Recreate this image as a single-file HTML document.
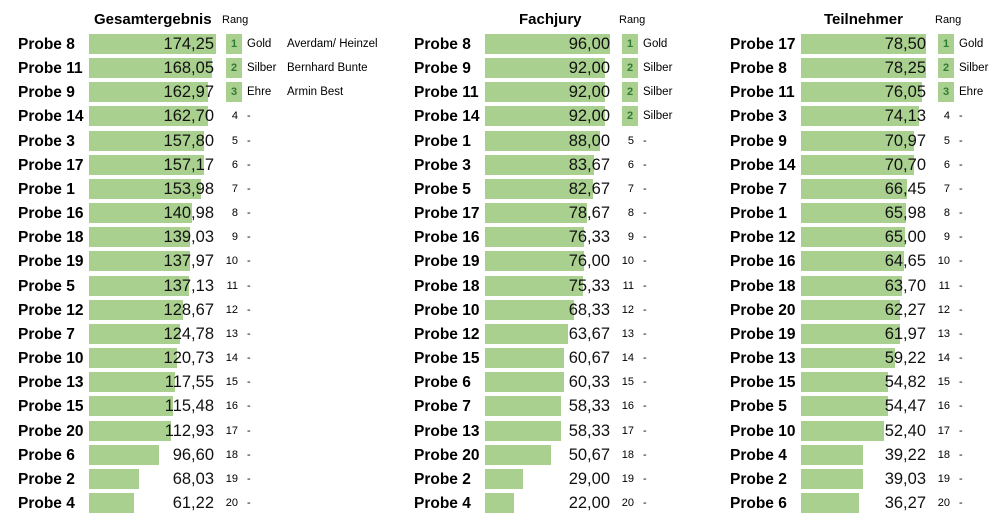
<!DOCTYPE html>
<html><head><meta charset="utf-8"><style>
body{margin:0;width:1000px;height:531px;background:#fff;position:relative;overflow:hidden;font-family:"Liberation Sans",Arial,sans-serif;color:#000}
.h{position:absolute;top:11px;font-weight:bold;font-size:15px}
.rg{position:absolute;top:14px;font-size:11px}
.p{position:absolute;left:0;top:0}
.r{position:absolute;height:24px;width:400px}
.l{position:absolute;left:18px;top:2px;font-weight:bold;font-size:15.5px}
.b{position:absolute;left:89px;top:0;height:20px;background:#a9d08e}
.v{position:absolute;left:60px;width:154px;text-align:right;top:1px;font-size:16.5px;color:#111}
.k{position:absolute;left:226px;top:0;width:16px;height:20px;background:#a9d08e;color:#2e7d32;font-weight:bold;font-size:11px;text-align:center;line-height:20px}
.n{position:absolute;left:216px;width:22px;text-align:right;top:4px;font-size:11px}
.n::after{content:"-";position:absolute;left:31px;top:0}
.m{position:absolute;left:247px;top:4px;font-size:11.5px}
.w{position:absolute;left:287px;top:4px;font-size:11.5px}
</style></head><body>
<div class="h" style="left:94px">Gesamtergebnis</div><div class="rg" style="left:222px">Rang</div>
<div class="h" style="left:519px">Fachjury</div><div class="rg" style="left:619px">Rang</div>
<div class="h" style="left:824px">Teilnehmer</div><div class="rg" style="left:935px">Rang</div>

<div class="p">
<div class="r" style="top:34px"><div class="l">Probe 8</div><div class="b" style="width:127px"></div><div class="v">174,25</div><div class="k">1</div><div class="m">Gold</div><div class="w">Averdam/ Heinzel</div></div>
<div class="r" style="top:58px"><div class="l">Probe 11</div><div class="b" style="width:122.5px"></div><div class="v">168,05</div><div class="k">2</div><div class="m">Silber</div><div class="w">Bernhard Bunte</div></div>
<div class="r" style="top:82px"><div class="l">Probe 9</div><div class="b" style="width:118.8px"></div><div class="v">162,97</div><div class="k">3</div><div class="m">Ehre</div><div class="w">Armin Best</div></div>
<div class="r" style="top:106px"><div class="l">Probe 14</div><div class="b" style="width:118.6px"></div><div class="v">162,70</div><div class="n">4</div></div>
<div class="r" style="top:131px"><div class="l">Probe 3</div><div class="b" style="width:115px"></div><div class="v">157,80</div><div class="n">5</div></div>
<div class="r" style="top:155px"><div class="l">Probe 17</div><div class="b" style="width:114.5px"></div><div class="v">157,17</div><div class="n">6</div></div>
<div class="r" style="top:179px"><div class="l">Probe 1</div><div class="b" style="width:112.2px"></div><div class="v">153,98</div><div class="n">7</div></div>
<div class="r" style="top:203px"><div class="l">Probe 16</div><div class="b" style="width:102.7px"></div><div class="v">140,98</div><div class="n">8</div></div>
<div class="r" style="top:227px"><div class="l">Probe 18</div><div class="b" style="width:101.3px"></div><div class="v">139,03</div><div class="n">9</div></div>
<div class="r" style="top:251px"><div class="l">Probe 19</div><div class="b" style="width:100.6px"></div><div class="v">137,97</div><div class="n">10</div></div>
<div class="r" style="top:276px"><div class="l">Probe 5</div><div class="b" style="width:99.9px"></div><div class="v">137,13</div><div class="n">11</div></div>
<div class="r" style="top:300px"><div class="l">Probe 12</div><div class="b" style="width:93.8px"></div><div class="v">128,67</div><div class="n">12</div></div>
<div class="r" style="top:324px"><div class="l">Probe 7</div><div class="b" style="width:90.9px"></div><div class="v">124,78</div><div class="n">13</div></div>
<div class="r" style="top:348px"><div class="l">Probe 10</div><div class="b" style="width:88px"></div><div class="v">120,73</div><div class="n">14</div></div>
<div class="r" style="top:372px"><div class="l">Probe 13</div><div class="b" style="width:85.7px"></div><div class="v">117,55</div><div class="n">15</div></div>
<div class="r" style="top:396px"><div class="l">Probe 15</div><div class="b" style="width:84.2px"></div><div class="v">115,48</div><div class="n">16</div></div>
<div class="r" style="top:421px"><div class="l">Probe 20</div><div class="b" style="width:82.3px"></div><div class="v">112,93</div><div class="n">17</div></div>
<div class="r" style="top:445px"><div class="l">Probe 6</div><div class="b" style="width:70.4px"></div><div class="v">96,60</div><div class="n">18</div></div>
<div class="r" style="top:469px"><div class="l">Probe 2</div><div class="b" style="width:49.6px"></div><div class="v">68,03</div><div class="n">19</div></div>
<div class="r" style="top:493px"><div class="l">Probe 4</div><div class="b" style="width:44.6px"></div><div class="v">61,22</div><div class="n">20</div></div>
</div>

<div class="p" style="left:396px">
<div class="r" style="top:34px"><div class="l">Probe 8</div><div class="b" style="width:125px"></div><div class="v">96,00</div><div class="k">1</div><div class="m">Gold</div></div>
<div class="r" style="top:58px"><div class="l">Probe 9</div><div class="b" style="width:119.8px"></div><div class="v">92,00</div><div class="k">2</div><div class="m">Silber</div></div>
<div class="r" style="top:82px"><div class="l">Probe 11</div><div class="b" style="width:119.8px"></div><div class="v">92,00</div><div class="k">2</div><div class="m">Silber</div></div>
<div class="r" style="top:106px"><div class="l">Probe 14</div><div class="b" style="width:119.8px"></div><div class="v">92,00</div><div class="k">2</div><div class="m">Silber</div></div>
<div class="r" style="top:131px"><div class="l">Probe 1</div><div class="b" style="width:114.6px"></div><div class="v">88,00</div><div class="n">5</div></div>
<div class="r" style="top:155px"><div class="l">Probe 3</div><div class="b" style="width:108.9px"></div><div class="v">83,67</div><div class="n">6</div></div>
<div class="r" style="top:179px"><div class="l">Probe 5</div><div class="b" style="width:107.6px"></div><div class="v">82,67</div><div class="n">7</div></div>
<div class="r" style="top:203px"><div class="l">Probe 17</div><div class="b" style="width:102.4px"></div><div class="v">78,67</div><div class="n">8</div></div>
<div class="r" style="top:227px"><div class="l">Probe 16</div><div class="b" style="width:99.4px"></div><div class="v">76,33</div><div class="n">9</div></div>
<div class="r" style="top:251px"><div class="l">Probe 19</div><div class="b" style="width:99px"></div><div class="v">76,00</div><div class="n">10</div></div>
<div class="r" style="top:276px"><div class="l">Probe 18</div><div class="b" style="width:98.1px"></div><div class="v">75,33</div><div class="n">11</div></div>
<div class="r" style="top:300px"><div class="l">Probe 10</div><div class="b" style="width:89px"></div><div class="v">68,33</div><div class="n">12</div></div>
<div class="r" style="top:324px"><div class="l">Probe 12</div><div class="b" style="width:82.9px"></div><div class="v">63,67</div><div class="n">13</div></div>
<div class="r" style="top:348px"><div class="l">Probe 15</div><div class="b" style="width:79px"></div><div class="v">60,67</div><div class="n">14</div></div>
<div class="r" style="top:372px"><div class="l">Probe 6</div><div class="b" style="width:78.6px"></div><div class="v">60,33</div><div class="n">15</div></div>
<div class="r" style="top:396px"><div class="l">Probe 7</div><div class="b" style="width:75.9px"></div><div class="v">58,33</div><div class="n">16</div></div>
<div class="r" style="top:421px"><div class="l">Probe 13</div><div class="b" style="width:75.9px"></div><div class="v">58,33</div><div class="n">17</div></div>
<div class="r" style="top:445px"><div class="l">Probe 20</div><div class="b" style="width:66px"></div><div class="v">50,67</div><div class="n">18</div></div>
<div class="r" style="top:469px"><div class="l">Probe 2</div><div class="b" style="width:37.8px"></div><div class="v">29,00</div><div class="n">19</div></div>
<div class="r" style="top:493px"><div class="l">Probe 4</div><div class="b" style="width:28.6px"></div><div class="v">22,00</div><div class="n">20</div></div>
</div>

<div class="p" style="left:712px">
<div class="r" style="top:34px"><div class="l">Probe 17</div><div class="b" style="width:125px"></div><div class="v">78,50</div><div class="k">1</div><div class="m">Gold</div></div>
<div class="r" style="top:58px"><div class="l">Probe 8</div><div class="b" style="width:124.6px"></div><div class="v">78,25</div><div class="k">2</div><div class="m">Silber</div></div>
<div class="r" style="top:82px"><div class="l">Probe 11</div><div class="b" style="width:121.1px"></div><div class="v">76,05</div><div class="k">3</div><div class="m">Ehre</div></div>
<div class="r" style="top:106px"><div class="l">Probe 3</div><div class="b" style="width:118px"></div><div class="v">74,13</div><div class="n">4</div></div>
<div class="r" style="top:131px"><div class="l">Probe 9</div><div class="b" style="width:113px"></div><div class="v">70,97</div><div class="n">5</div></div>
<div class="r" style="top:155px"><div class="l">Probe 14</div><div class="b" style="width:112.6px"></div><div class="v">70,70</div><div class="n">6</div></div>
<div class="r" style="top:179px"><div class="l">Probe 7</div><div class="b" style="width:105.8px"></div><div class="v">66,45</div><div class="n">7</div></div>
<div class="r" style="top:203px"><div class="l">Probe 1</div><div class="b" style="width:105px"></div><div class="v">65,98</div><div class="n">8</div></div>
<div class="r" style="top:227px"><div class="l">Probe 12</div><div class="b" style="width:103.5px"></div><div class="v">65,00</div><div class="n">9</div></div>
<div class="r" style="top:251px"><div class="l">Probe 16</div><div class="b" style="width:102.9px"></div><div class="v">64,65</div><div class="n">10</div></div>
<div class="r" style="top:276px"><div class="l">Probe 18</div><div class="b" style="width:101.4px"></div><div class="v">63,70</div><div class="n">11</div></div>
<div class="r" style="top:300px"><div class="l">Probe 20</div><div class="b" style="width:99.1px"></div><div class="v">62,27</div><div class="n">12</div></div>
<div class="r" style="top:324px"><div class="l">Probe 19</div><div class="b" style="width:98.7px"></div><div class="v">61,97</div><div class="n">13</div></div>
<div class="r" style="top:348px"><div class="l">Probe 13</div><div class="b" style="width:94.3px"></div><div class="v">59,22</div><div class="n">14</div></div>
<div class="r" style="top:372px"><div class="l">Probe 15</div><div class="b" style="width:87.3px"></div><div class="v">54,82</div><div class="n">15</div></div>
<div class="r" style="top:396px"><div class="l">Probe 5</div><div class="b" style="width:86.7px"></div><div class="v">54,47</div><div class="n">16</div></div>
<div class="r" style="top:421px"><div class="l">Probe 10</div><div class="b" style="width:83.4px"></div><div class="v">52,40</div><div class="n">17</div></div>
<div class="r" style="top:445px"><div class="l">Probe 4</div><div class="b" style="width:62.4px"></div><div class="v">39,22</div><div class="n">18</div></div>
<div class="r" style="top:469px"><div class="l">Probe 2</div><div class="b" style="width:62.1px"></div><div class="v">39,03</div><div class="n">19</div></div>
<div class="r" style="top:493px"><div class="l">Probe 6</div><div class="b" style="width:57.7px"></div><div class="v">36,27</div><div class="n">20</div></div>
</div>
</body></html>
